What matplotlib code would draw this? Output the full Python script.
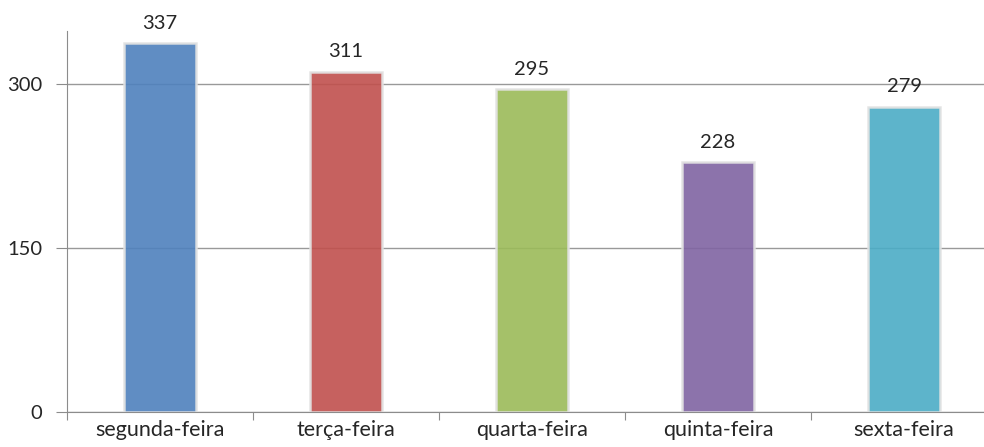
import matplotlib
matplotlib.use("Agg")
import matplotlib.pyplot as plt

categories = ["segunda-feira", "terça-feira", "quarta-feira", "quinta-feira", "sexta-feira"]
values = [337, 311, 295, 228, 279]
colors = ["#4F81BD", "#C0504D", "#9BBB59", "#8064A2", "#4BACC6"]
yticks = [0, 150, 300]

plt.rcParams['font.family'] = ['Lato', 'DejaVu Sans']

fig = plt.figure(figsize=(9.84, 4.47), dpi=100)
ax = fig.add_axes([67/984, 35/447, (997-67)/984, (412-31)/447])

x = list(range(len(categories)))
ax.bar(x, values, width=0.39, color=colors, alpha=0.9,
       edgecolor="#e2e2e2", linewidth=1.8, zorder=3)

for xi, v in zip(x, values):
    ax.annotate(str(v), (xi, v), xytext=(0, 8), textcoords="offset points",
                ha="center", va="bottom", fontsize=14.5, color="#262626")

ax.set_xlim(-0.5, len(categories) - 0.5)
ax.set_ylim(0, 348)
ax.set_yticks(yticks)
ax.set_yticklabels([str(t) for t in yticks], fontsize=14.5, color="#262626")
ax.yaxis.grid(True, color="#999999", linewidth=1.0, zorder=1)
ax.set_axisbelow(True)

ax.set_xticks([i - 0.5 for i in range(len(categories) + 1)])
ax.set_xticklabels([])
ax.set_xticks(x, minor=True)
ax.set_xticklabels(categories, minor=True, fontsize=15.5, color="#262626")
ax.tick_params(axis="x", which="minor", length=0, pad=6)
ax.tick_params(axis="x", which="major", length=6, color="#8c8c8c", direction="out")
ax.tick_params(axis="y", length=8, color="#8c8c8c", pad=10)

for s in ["top", "right"]:
    ax.spines[s].set_visible(False)
ax.spines["left"].set_color("#8c8c8c")
ax.spines["bottom"].set_color("#8c8c8c")

fig.savefig("out.png", dpi=100)
